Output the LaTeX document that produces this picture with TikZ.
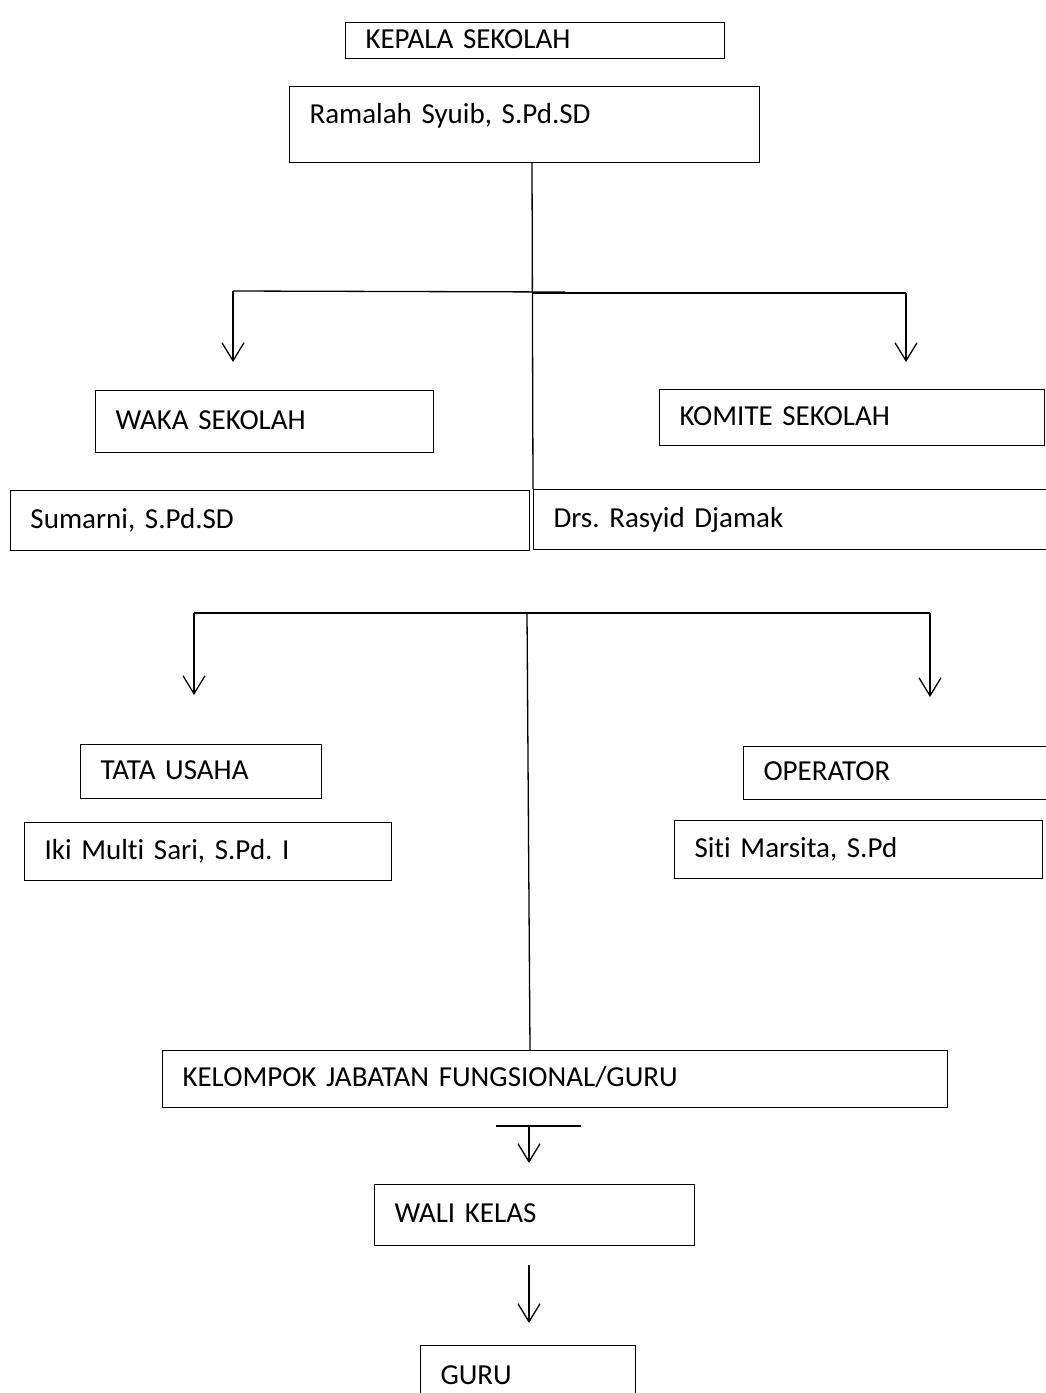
\documentclass[tikz,border=0pt]{standalone}
\usepackage{fontspec}
\setmainfont{Carlito}[Ligatures={NoCommon}]
\usetikzlibrary{arrows.meta}
\frenchspacing
\begin{document}
\begin{tikzpicture}[x=1pt,y=-1pt,
  box/.style={draw, line width=1pt, anchor=north west, inner xsep=20pt, inner ysep=0pt,
    align=left, font=\fontsize{29}{34}\selectfont, text height=20pt, text depth=5pt},
  conn/.style={line width=1.3pt},
  arr/.style={line width=1.3pt, -{Straight Barb[length=18pt,width=22pt,line width=1.3pt]}}]
\useasboundingbox (0,0) rectangle (1046,1393);
\fill[white] (0,0) rectangle (1046,1393);

\node[box, minimum width=379pt, minimum height=36pt, text width=339pt] (kepala) at (345,22) {KEPALA SEKOLAH};
\node[box, minimum width=470pt, minimum height=76pt, text width=430pt, text depth=23pt] (ramalah) at (289,86) {Ramalah Syuib, S.Pd.SD};
\node[box, minimum width=338pt, minimum height=62pt, text width=298pt] (waka) at (95,390) {WAKA SEKOLAH};
\node[box, minimum width=385pt, minimum height=56pt, text width=345pt] (komite) at (659,389) {KOMITE SEKOLAH};
\node[box, minimum width=519pt, minimum height=60pt, text width=479pt] (sumarni) at (10,490) {Sumarni, S.Pd.SD};
\node[box, minimum width=520pt, minimum height=60pt, text width=480pt] (rasyid) at (533,489) {Drs. Rasyid Djamak};
\node[box, minimum width=241pt, minimum height=54pt, text width=201pt] (tata) at (80,744) {TATA USAHA};
\node[box, minimum width=367pt, minimum height=58pt, text width=327pt] (iki) at (24,822) {Iki Multi Sari, S.Pd. I};
\node[box, minimum width=310pt, minimum height=53pt, text width=270pt] (operator) at (743,746) {OPERATOR};
\node[box, minimum width=368pt, minimum height=58pt, text width=328pt] (siti) at (674,820) {Siti Marsita, S.Pd};
\node[box, minimum width=785pt, minimum height=57pt, text width=745pt] (kelompok) at (162,1050) {KELOMPOK JABATAN FUNGSIONAL/GURU};
\node[box, minimum width=320pt, minimum height=61pt, text width=280pt] (wali) at (374,1184) {WALI KELAS};
\node[box, minimum width=215pt, minimum height=62pt, text width=175pt] (guru) at (420,1345) {GURU};

% first tier
\coordinate (j1) at (532,292);
\coordinate (l1) at (233,291);
\coordinate (l1e) at (565,292);
\coordinate (r1s) at (532,293);
\coordinate (r1) at (906,293);
\coordinate (a1) at (233,362);
\coordinate (b1) at (906,362);
\draw[conn] (ramalah.south -| j1) -- (rasyid.north west);
\draw[conn] (l1) -- (l1e);
\draw[conn] (r1s) -- (r1);
\draw[arr] (l1) -- (a1);
\draw[arr] (r1) -- (b1);

% second tier
\coordinate (l2) at (194,613);
\coordinate (r2) at (930,613);
\coordinate (m2) at (527,613);
\coordinate (m2e) at (637,613);
\coordinate (a2) at (194,695);
\coordinate (b2) at (930,697);
\coordinate (k2) at (530,1050);
\draw[conn] (l2) -- (r2);
\draw[line width=2pt] (m2) -- (m2e);
\draw[conn] (m2) -- (k2);
\draw[arr] (l2) -- (a2);
\draw[arr] (r2) -- (b2);

% bottom
\coordinate (t3l) at (496,1126);
\coordinate (t3r) at (581,1126);
\coordinate (t3) at (529,1126);
\coordinate (a3) at (529,1163);
\coordinate (t4) at (529,1265);
\coordinate (a4) at (529,1323);
\draw[conn] (t3l) -- (t3r);
\draw[arr] (t3) -- (a3);
\draw[arr] (t4) -- (a4);
\end{tikzpicture}
\end{document}
